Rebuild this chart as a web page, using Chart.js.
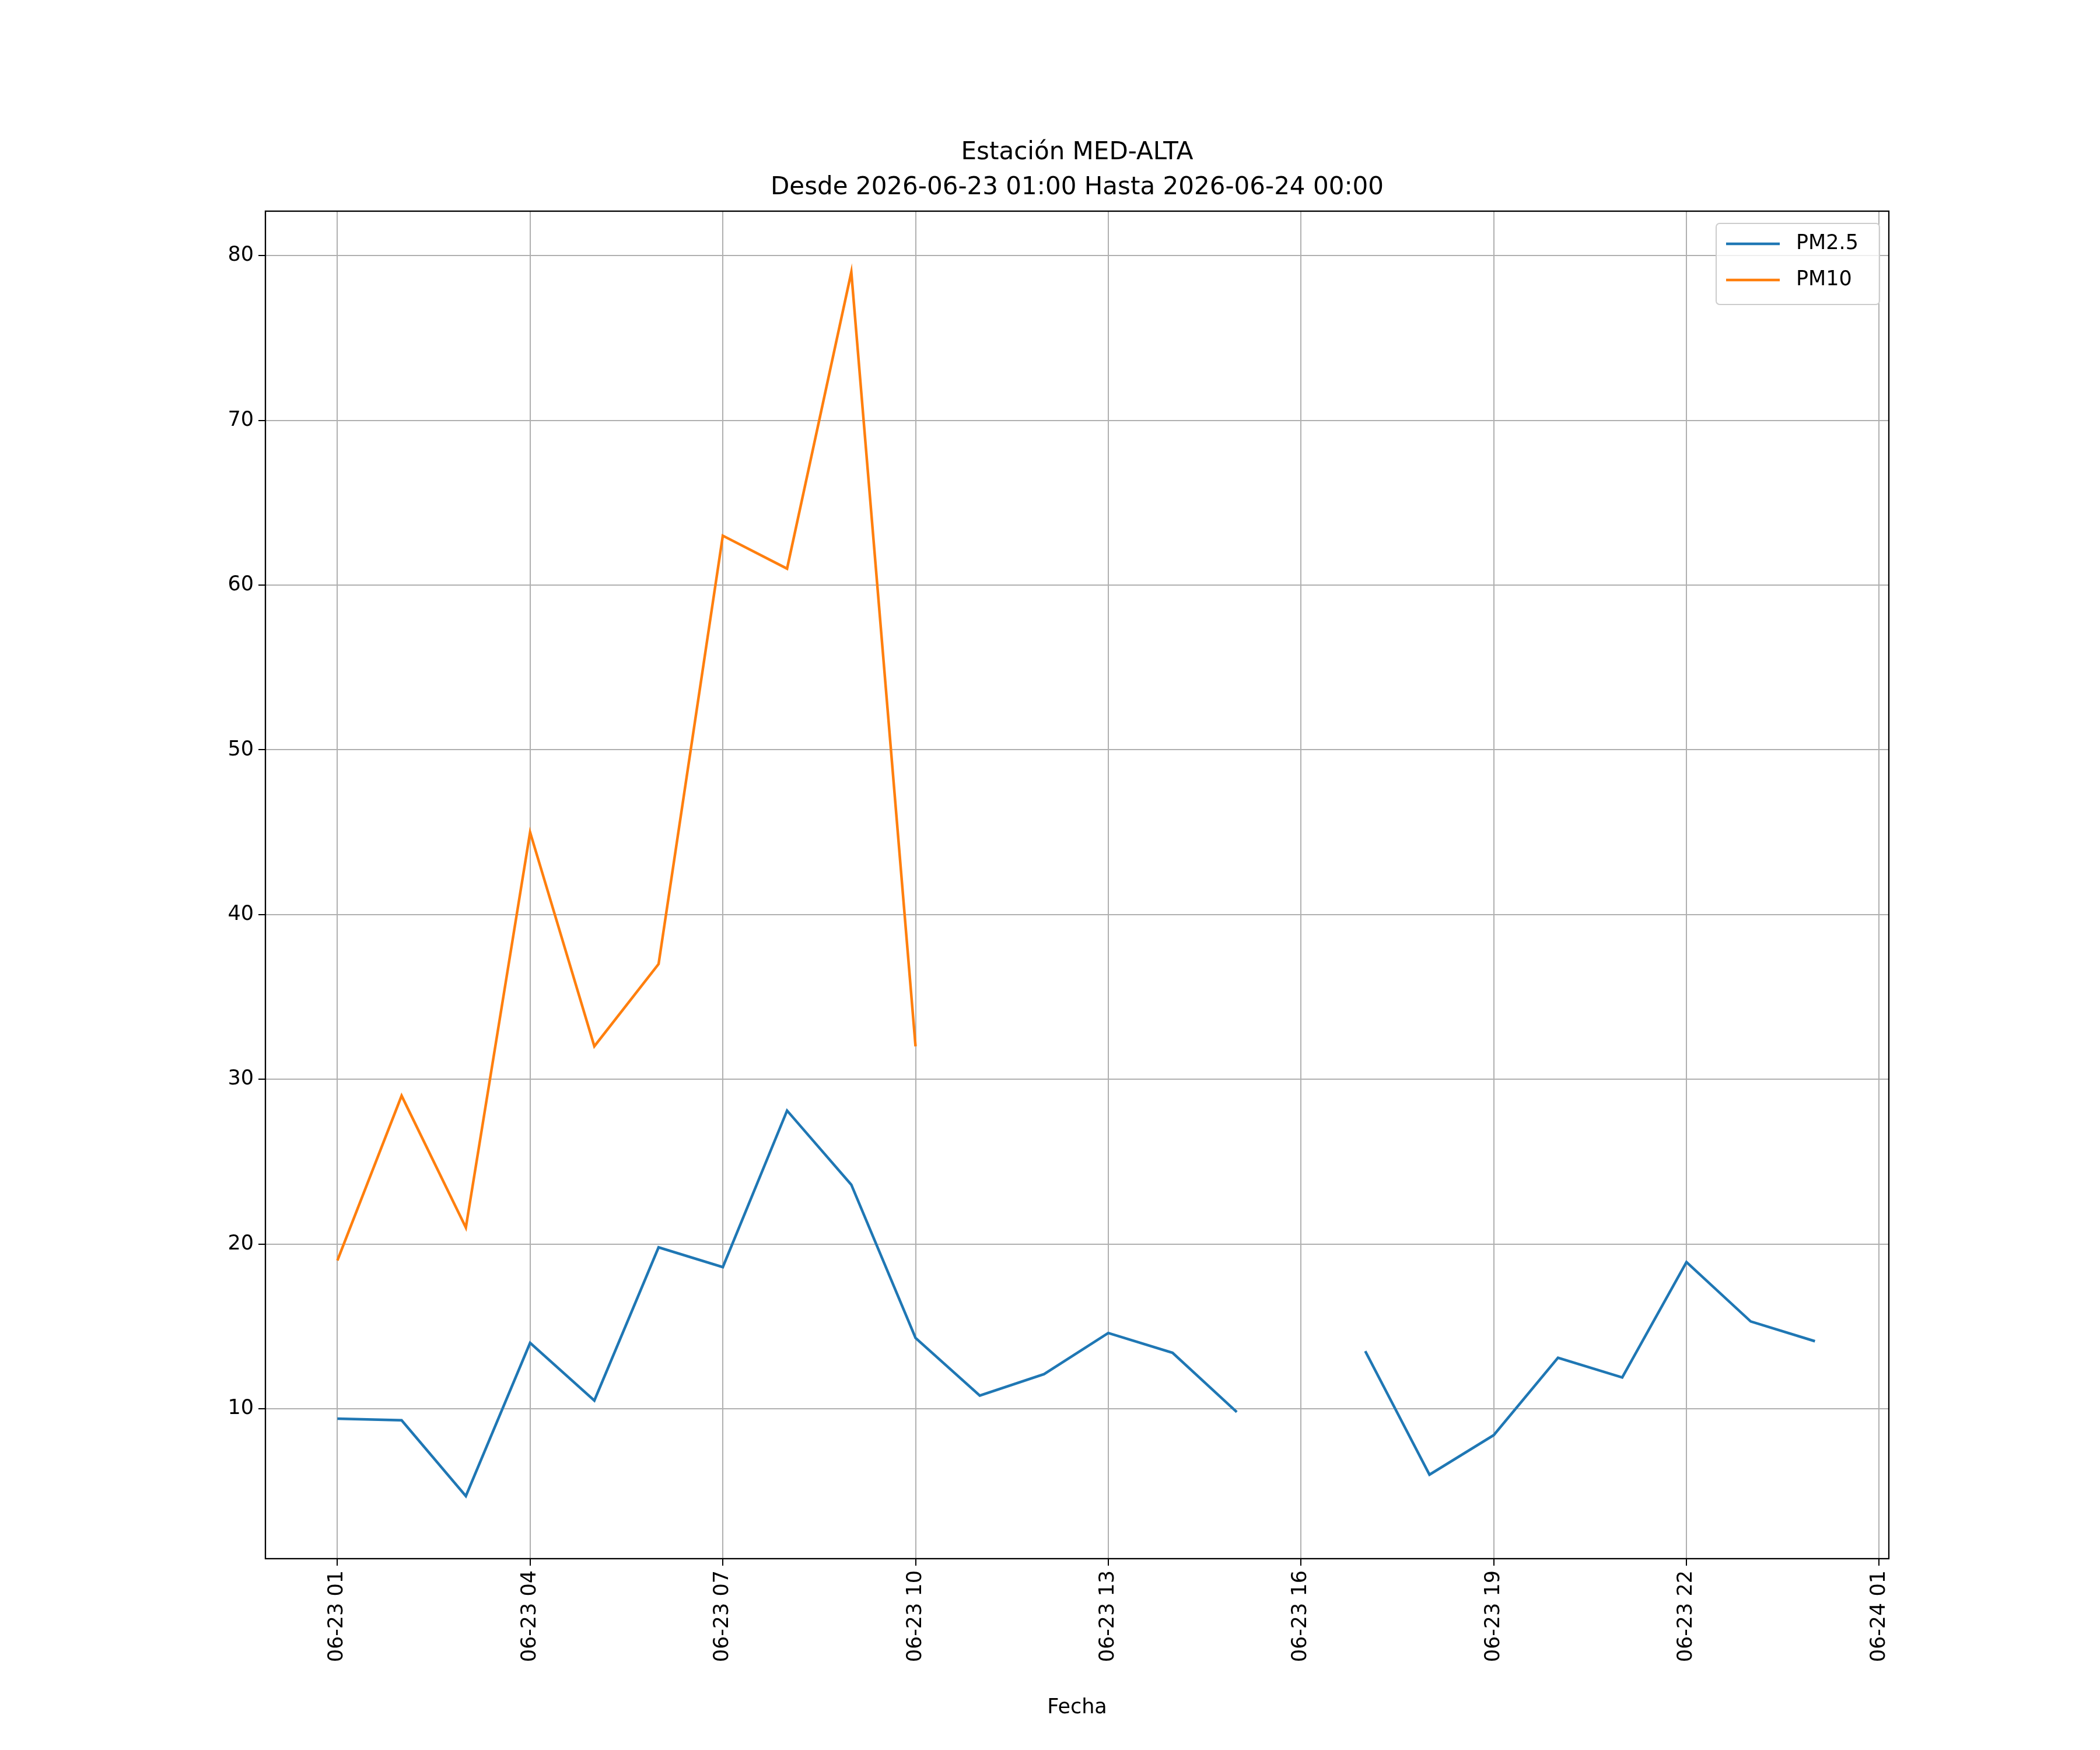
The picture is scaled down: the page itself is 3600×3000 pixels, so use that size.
<!DOCTYPE html>
<html>
<head>
<meta charset="utf-8">
<script src="https://cdn.jsdelivr.net/npm/chart.js@4"></script>
<style>
  body { margin: 0; background: #fff; }
  #wrap { width: 3600px; height: 3000px; }
</style>
</head>
<body>
<div id="wrap"><canvas id="c" width="3600" height="3000"></canvas></div>
<script>
// hours after 2026-06-23 01:00
const hours = [0,1,2,3,4,5,6,7,8,9,10,11,12,13,14,15,16,17,18,19,20,21,22,23];
const pm25 = [9.4,9.3,4.7,14.0,10.5,19.8,18.6,28.1,23.6,14.3,10.8,12.1,14.6,13.4,9.8,null,13.5,6.0,8.4,13.1,11.9,18.9,15.3,14.1];
const pm10 = [19,29,21,45,32,37,63,61,79,32,null,null,null,null,null,null,null,null,null,null,null,null,null,null];
const xTicks = [0,3,6,9,12,15,18,21,24];
const xTickLabels = ['06-23 01','06-23 04','06-23 07','06-23 10','06-23 13','06-23 16','06-23 19','06-23 22','06-24 01'];
const yTicks = [10,20,30,40,50,60,70,80];
const seriesNames = ['PM2.5', 'PM10'];
const colors = ['#1f77b4', '#ff7f0e'];

const FONT = 'DejaVu Sans';

const extras = {
  id: 'extras',
  afterDraw(chart) {
    const ctx = chart.ctx;
    const a = chart.chartArea;
    ctx.save();
    // frame
    ctx.strokeStyle = '#000';
    ctx.lineWidth = 2.3;
    ctx.strokeRect(a.left, a.top, a.right - a.left, a.bottom - a.top);
    // titles
    ctx.fillStyle = '#000';
    ctx.textAlign = 'center';
    ctx.textBaseline = 'middle';
    ctx.font = '42px ' + FONT;
    const cx = (a.left + a.right) / 2;
    ctx.fillText('Estación MED-ALTA', cx, 262);
    ctx.fillText('Desde 2026-06-23 01:00 Hasta 2026-06-24 00:00', cx, 322);
    ctx.font = '35px ' + FONT;
    ctx.fillText('Fecha', cx, 2928);
    // legend
    const lx = 2942, ly = 383, lw = 280, lh = 139;
    ctx.fillStyle = 'rgba(255,255,255,0.8)';
    ctx.strokeStyle = '#cccccc';
    ctx.lineWidth = 2;
    ctx.beginPath();
    ctx.roundRect(lx, ly, lw, lh, 6);
    ctx.fill();
    ctx.stroke();
    ctx.textAlign = 'left';
    ctx.font = '35px ' + FONT;
    seriesNames.forEach((n, i) => {
      const y = 418 + i * 62;
      ctx.strokeStyle = colors[i];
      ctx.lineWidth = 4.5;
      ctx.beginPath();
      ctx.moveTo(2959, y);
      ctx.lineTo(3051, y);
      ctx.stroke();
      ctx.fillStyle = '#000';
      ctx.fillText(n, 3079, y);
    });
    ctx.restore();
  }
};

new Chart(document.getElementById('c'), {
  type: 'line',
  data: {
    datasets: [
      { label: seriesNames[0], data: hours.map((h, i) => ({ x: h, y: pm25[i] })), borderColor: colors[0] },
      { label: seriesNames[1], data: hours.map((h, i) => ({ x: h, y: pm10[i] })), borderColor: colors[1] }
    ]
  },
  options: {
    responsive: false,
    animation: false,
    spanGaps: false,
    elements: { point: { radius: 0 }, line: { borderWidth: 4.5, tension: 0 } },
    layout: { padding: { top: 362, right: 362, left: 0, bottom: 0 } },
    plugins: { legend: { display: false }, title: { display: false }, tooltip: { enabled: false } },
    scales: {
      x: {
        type: 'linear',
        min: -1.12,
        max: 24.15,
        afterFit: s => { s.height = 328; },
        afterBuildTicks: s => { s.ticks = xTicks.map(v => ({ value: v })); },
        ticks: {
          autoSkip: false,
          minRotation: 90,
          maxRotation: 90,
          color: '#000',
          font: { family: FONT, size: 35 },
          padding: 8,
          callback: v => xTickLabels[xTicks.indexOf(v)]
        },
        grid: { color: '#b0b0b0', lineWidth: 2, tickLength: 12, tickColor: '#000' },
        border: { display: false }
      },
      y: {
        min: 0.9,
        max: 82.7,
        afterFit: s => { s.width = 455; },
        afterBuildTicks: s => { s.ticks = yTicks.map(v => ({ value: v })); },
        ticks: { color: '#000', font: { family: FONT, size: 35 }, padding: 8 },
        grid: { color: '#b0b0b0', lineWidth: 2, tickLength: 12, tickColor: '#000' },
        border: { display: false }
      }
    }
  },
  plugins: [extras]
});
</script>
</body>
</html>
